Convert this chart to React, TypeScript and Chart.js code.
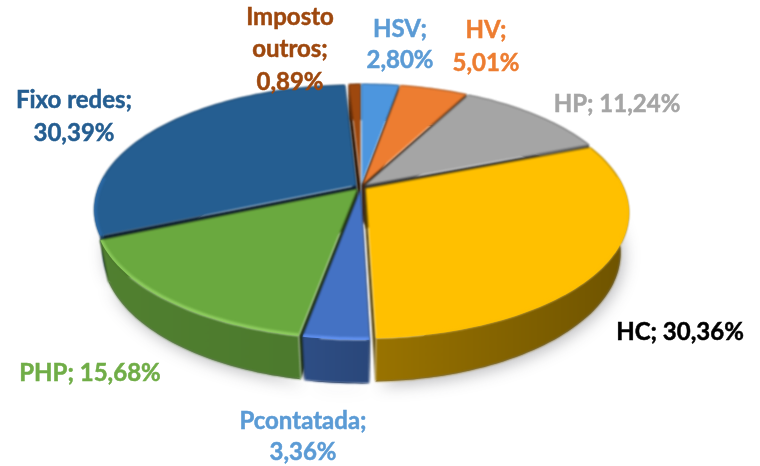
import React, { useEffect, useRef } from "react";
import { Chart, registerables } from "chart.js";

Chart.register(...registerables);

const categories = ["HSV", "HV", "HP", "HC", "Pcontatada", "PHP", "Fixo redes", "Imposto outros"];
const shares = [2.8, 5.01, 11.24, 30.36, 3.36, 15.68, 30.39, 0.89];
const faceColors = ["#4d96de", "#ed7d31", "#a5a5a5", "#ffc000", "#4472c4", "#6aa93f", "#255e91", "#9e480e"];
const rimColors = ["#6aaeea", "#f59a5c", "#b8b8b8", "#ffc000", "#5f90f0", "#8ccb5c", "#2a68a5", "#b5581a"];
const wallStart = [0.6, 0.6, 0.6, 0.6, 0.68, 0.76, 0.7, 0.6];
const wallEnd = [0.5, 0.5, 0.5, 0.43, 0.62, 0.72, 0.6, 0.5];
const labelColors = ["#5b9bd5", "#ed7d31", "#a5a5a5", "#000000", "#5b9bd5", "#70ad47", "#255e91", "#9e480e"];
const labelLines = [
  ["HSV;", "{v}"],
  ["HV;", "{v}"],
  ["HP; {v}"],
  ["HC; {v}"],
  ["Pcontatada;", "{v}"],
  ["PHP; {v}"],
  ["Fixo redes;", "{v}"],
  ["Imposto", "outros;", "{v}"],
];
const labelAnchors = [
  [400, 29],
  [486, 30],
  [617, 104],
  [680, 332],
  [303, 421],
  [90, 373],
  [74, 100],
  [290, 17],
];
const labelLineGap = [31, 33, 0, 0, 31, 0, 33, 32.5];

const VIEW = { x0: 361, y0: 187, a: 263, b: 123, p: 0.195, d: 41, q: 0.03 };

function project(u: number, v: number, z: number) {
  const w = 1 - VIEW.p * v + VIEW.q * z;
  return [VIEW.x0 + (VIEW.a * u) / w, VIEW.y0 + (VIEW.b * v + VIEW.d * z) / w];
}

function shade(hex: string, k: number) {
  const n = parseInt(hex.slice(1), 16);
  const c = [(n >> 16) & 255, (n >> 8) & 255, n & 255].map((x) => Math.round(x * k));
  return `rgb(${c[0]},${c[1]},${c[2]})`;
}

function trace(ctx: CanvasRenderingContext2D, pts: number[][]) {
  ctx.beginPath();
  pts.forEach((p, i) => (i ? ctx.lineTo(p[0], p[1]) : ctx.moveTo(p[0], p[1])));
  ctx.closePath();
}

const pie3d = {
  id: "pie3d",
  beforeDatasetsDraw(chart: any) {
    const ctx: CanvasRenderingContext2D = chart.ctx;
    const arcs = chart.getDatasetMeta(0).data.map((el: any, i: number) => {
      const off = el.options.offset || 0;
      const unit = el.outerRadius + off;
      const mid = (el.startAngle + el.endAngle) / 2;
      const ox = (Math.cos(mid) * off) / unit;
      const oy = (Math.sin(mid) * off) / unit;
      const r = el.outerRadius / unit;
      const n = Math.max(3, Math.ceil((el.endAngle - el.startAngle) * 40));
      const rim: number[][] = [];
      for (let k = 0; k <= n; k++) {
        const t = el.startAngle + ((el.endAngle - el.startAngle) * k) / n;
        rim.push([ox + r * Math.cos(t), oy + r * Math.sin(t)]);
      }
      return { i, ox, oy, rim, order: Math.sin(mid) };
    });
    arcs.sort((a: any, b: any) => a.order - b.order);

    ctx.save();
    // soft ground shadow
    ctx.save();
    ctx.shadowColor = "rgba(60,60,70,0.35)";
    ctx.shadowBlur = 16;
    ctx.shadowOffsetY = 4;
    ctx.shadowOffsetX = 3;
    ctx.fillStyle = "#777";
    arcs.forEach((s: any) => {
      trace(ctx, s.rim.map((p: number[]) => project(p[0], p[1], 1)));
      ctx.fill();
    });
    ctx.restore();

    ctx.filter = "blur(0.8px)";
    arcs.forEach((s: any) => {
      const face = faceColors[s.i];
      const topRim = s.rim.map((p: number[]) => project(p[0], p[1], 0));
      const lowRim = s.rim.map((p: number[]) => project(p[0], p[1], 1));
      const apexT = project(s.ox, s.oy, 0);
      const apexB = project(s.ox, s.oy, 1);

      // cut walls
      ctx.fillStyle = shade(face, 0.3);
      trace(ctx, [apexT, topRim[0], lowRim[0], apexB]);
      ctx.fill();
      trace(ctx, [apexT, topRim[topRim.length - 1], lowRim[lowRim.length - 1], apexB]);
      ctx.fill();

      // outer wall
      const xs = topRim.map((p: number[]) => p[0]);
      const g = ctx.createLinearGradient(Math.min(...xs), 0, Math.max(...xs), 0);
      g.addColorStop(0, shade(face, wallStart[s.i]));
      g.addColorStop(1, shade(face, wallEnd[s.i]));
      ctx.fillStyle = g;
      trace(ctx, [...topRim, ...lowRim.slice().reverse()]);
      ctx.fill();

      // top face
      ctx.fillStyle = face;
      trace(ctx, [apexT, ...topRim]);
      ctx.fill();

      // bevel along the near rim
      ctx.save();
      trace(ctx, [apexT, ...topRim]);
      ctx.clip();
      ctx.strokeStyle = rimColors[s.i];
      ctx.lineWidth = 5;
      ctx.beginPath();
      let pen = false;
      s.rim.forEach((p: number[]) => {
        const q = project(p[0], p[1], 0);
        if (p[1] > -0.1) {
          if (pen) ctx.lineTo(q[0], q[1]);
          else ctx.moveTo(q[0], q[1]);
          pen = true;
        }
      });
      ctx.stroke();
      ctx.restore();
    });
    ctx.restore();
    return false;
  },
  afterDraw(chart: any) {
    const ctx: CanvasRenderingContext2D = chart.ctx;
    ctx.save();
    ctx.filter = "blur(0.35px)";
    ctx.font = "bold 24px Lato, Carlito, sans-serif";
    ctx.textAlign = "center";
    ctx.textBaseline = "middle";
    ctx.lineWidth = 0.5;
    categories.forEach((_, i) => {
      const val = shares[i].toFixed(2).replace(".", ",") + "%";
      ctx.fillStyle = labelColors[i];
      ctx.strokeStyle = labelColors[i];
      labelLines[i].forEach((line, k) => {
        const text = line.replace("{v}", val);
        const y = labelAnchors[i][1] + k * labelLineGap[i];
        ctx.fillText(text, labelAnchors[i][0], y);
        ctx.strokeText(text, labelAnchors[i][0], y);
      });
    });
    ctx.restore();
  },
};

export default function App() {
  const ref = useRef<HTMLCanvasElement | null>(null);
  useEffect(() => {
    const chart = new Chart(ref.current as HTMLCanvasElement, {
      type: "pie",
      data: {
        labels: categories,
        datasets: [{ data: shares, backgroundColor: faceColors, borderWidth: 0, offset: 5 }],
      },
      options: {
        animation: false,
        responsive: false,
        plugins: { legend: { display: false }, tooltip: { enabled: false } },
      },
      plugins: [pie3d],
    } as any);
    return () => chart.destroy();
  }, []);
  return (
    <div style={{ position: "fixed", left: 0, top: 0, width: 760, height: 466, background: "#fff" }}>
      <canvas ref={ref} width={760} height={466} style={{ display: "block" }} />
    </div>
  );
}
